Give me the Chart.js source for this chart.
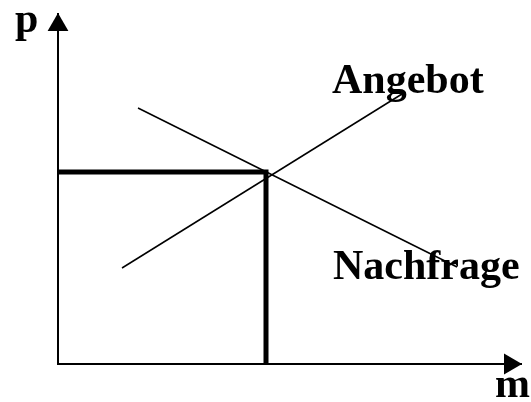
<!DOCTYPE html>
<html>
<head>
<meta charset="utf-8">
<script src="https://cdn.jsdelivr.net/npm/chart.js@4/dist/chart.umd.min.js"></script>
<style>
  html, body { margin: 0; padding: 0; background: #fff; }
  canvas { display: block; }
</style>
</head>
<body>
<canvas id="chart" width="531" height="402"></canvas>
<script>
// Angebot / Nachfrage diagram, m = Menge (x), p = Preis (y)
// values in picture units measured from the axis origin
const axisLine = [{ x: 0, y: 351 }, { x: 0, y: 0 }, { x: 464, y: 0 }]
const arrowTips = [{ x: 0, y: 339 }, { x: 452, y: 0 }]
const angebot = [{ x: 64, y: 96 }, { x: 344, y: 270 }]
const nachfrage = [{ x: 80, y: 256 }, { x: 399, y: 97 }]
const gleichgewicht = [{ x: 0, y: 192 }, { x: 208, y: 192 }, { x: 208, y: 0 }]

const labels = [
  { text: 'p', x: -43, y: 332 },
  { text: 'Angebot', x: 274, y: 271 },
  { text: 'Nachfrage', x: 275, y: 85 },
  { text: 'm', x: 437, y: -33 }
]

const labelPlugin = {
  id: 'labels',
  afterDatasetsDraw(chart) {
    const { ctx, scales } = chart
    ctx.save()
    ctx.fillStyle = '#000'
    ctx.font = "bold 42px 'Liberation Serif', 'Times New Roman', serif"
    ctx.textBaseline = 'alphabetic'
    labels.forEach(l => {
      ctx.fillText(l.text, scales.x.getPixelForValue(l.x), scales.y.getPixelForValue(l.y))
    })
    ctx.restore()
  }
}

const ctx = document.getElementById('chart').getContext('2d')
new Chart(ctx, {
  type: 'scatter',
  data: {
    datasets: [
      {
        data: axisLine,
        showLine: true,
        borderColor: '#000',
        borderWidth: 2,
        pointRadius: 0
      },
      {
        data: arrowTips,
        pointStyle: 'triangle',
        pointRadius: 12,
        pointRotation: [0, 90],
        backgroundColor: '#000',
        borderColor: '#000',
        borderWidth: 0
      },
      {
        data: angebot,
        showLine: true,
        borderColor: '#000',
        borderWidth: 1.5,
        pointRadius: 0
      },
      {
        data: nachfrage,
        showLine: true,
        borderColor: '#000',
        borderWidth: 1.5,
        pointRadius: 0
      },
      {
        data: gleichgewicht,
        showLine: true,
        borderColor: '#000',
        borderWidth: 5,
        borderJoinStyle: 'miter',
        pointRadius: 0
      }
    ]
  },
  options: {
    responsive: false,
    animation: false,
    devicePixelRatio: 1,
    layout: { padding: 0, autoPadding: false },
    plugins: {
      legend: { display: false },
      tooltip: { enabled: false }
    },
    scales: {
      x: { type: 'linear', min: -58, max: 473, display: false },
      y: { type: 'linear', min: -38, max: 364, display: false }
    }
  },
  plugins: [labelPlugin]
})
</script>
</body>
</html>
